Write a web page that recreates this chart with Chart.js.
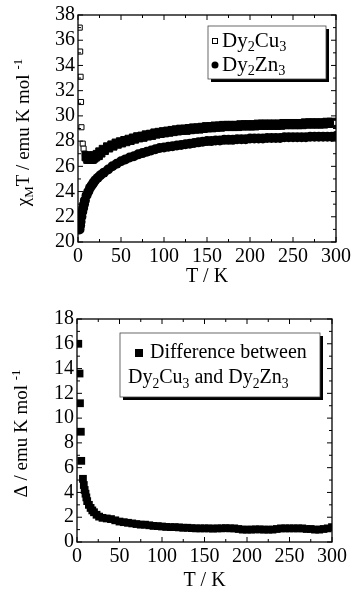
<!DOCTYPE html>
<html>
<head>
<title>Dy2Cu3 / Dy2Zn3</title>
<script src="https://cdn.jsdelivr.net/npm/chart.js"></script>
<style>
  body { margin: 0; background: #fff; }
  .pane { position: absolute; left: 0; }
</style>
</head>
<body>
<div class="pane" style="top:0"><canvas id="chiChart" width="354" height="290"></canvas></div>
<div class="pane" style="top:290px"><canvas id="diffChart" width="354" height="299"></canvas></div>

<script>
// chi_M T of Dy2Cu3 (open squares at the ends, dense band in between)
const cuT = [2, 2.5, 3, 3.5, 4, 5.5, 6.5, 8, 10, 12, 14, 16, 18, 20, 23, 26,
  30, 35, 40, 45, 50, 55, 60, 65, 70, 75, 80, 85, 90, 95, 100, 105, 110, 115, 120, 125, 130, 135, 140, 145,
  150, 155, 160, 165, 170, 175, 180, 185, 190, 195, 200, 205, 210, 215, 220, 225, 230, 235, 240, 245,
  250, 255, 260, 265, 270, 275, 280, 285, 290, 295, 300]
const cuChi = [37.0, 35.1, 33.1, 31.1, 29.1, 27.8, 27.4, 27.0, 26.8, 26.6, 26.6, 26.6, 26.7, 26.8, 26.9, 27.1,
  27.3, 27.5, 27.65, 27.8, 27.9, 28.0, 28.1, 28.2, 28.3, 28.35, 28.45, 28.5, 28.6, 28.65, 28.7, 28.75, 28.8, 28.85, 28.9, 28.9, 28.95, 29.0, 29.0, 29.05,
  29.1, 29.1, 29.15, 29.15, 29.2, 29.2, 29.2, 29.2, 29.25, 29.25, 29.25, 29.25, 29.3, 29.3, 29.3, 29.3, 29.3, 29.3, 29.35, 29.35,
  29.35, 29.35, 29.35, 29.4, 29.4, 29.4, 29.4, 29.4, 29.45, 29.45, 29.45]

// chi_M T of Dy2Zn3
const znT = [1.8, 2.5, 3, 4, 5, 6, 7, 8, 10, 12, 14, 16, 18, 20, 23, 26,
  30, 35, 40, 45, 50, 55, 60, 65, 70, 75, 80, 85, 90, 95, 100, 105, 110, 115, 120, 125, 130, 135, 140, 145,
  150, 155, 160, 165, 170, 175, 180, 185, 190, 195, 200, 205, 210, 215, 220, 225, 230, 235, 240, 245,
  250, 255, 260, 265, 270, 275, 280, 285, 290, 295, 300]
const znChi = [21.0, 21.3, 21.6, 22.0, 22.4, 22.7, 23.0, 23.3, 23.7, 24.0, 24.3, 24.5, 24.7, 24.9, 25.1, 25.3,
  25.5, 25.75, 26.0, 26.2, 26.4, 26.55, 26.7, 26.8, 26.95, 27.05, 27.15, 27.25, 27.35, 27.45, 27.5, 27.55, 27.6, 27.65, 27.7, 27.75, 27.8, 27.85, 27.9, 27.95,
  28.0, 28.0, 28.05, 28.05, 28.1, 28.1, 28.1, 28.15, 28.15, 28.15, 28.2, 28.2, 28.2, 28.2, 28.25, 28.25, 28.25, 28.25, 28.3, 28.3,
  28.3, 28.3, 28.3, 28.3, 28.35, 28.35, 28.35, 28.35, 28.35, 28.35, 28.4]

// difference Dy2Cu3 - Dy2Zn3
const diffT = [1.5, 3, 3.5, 4.5, 5, 7, 8, 9, 10, 11, 12, 14, 16, 18, 20, 23, 26,
  30, 35, 40, 45, 50, 55, 60, 65, 70, 75, 80, 85, 90, 95, 100, 105, 110, 115, 120, 125, 130, 135, 140, 145,
  150, 155, 160, 165, 170, 175, 180, 185, 190, 195, 200, 205, 210, 215, 220, 225, 230, 235, 240, 245,
  250, 255, 260, 265, 270, 275, 280, 285, 290, 295, 300]
const diffVal = [16.0, 13.6, 11.2, 8.9, 6.55, 5.1, 4.6, 4.2, 3.9, 3.6, 3.3, 3.0, 2.75, 2.55, 2.4, 2.2, 2.05,
  1.95, 1.9, 1.85, 1.75, 1.65, 1.6, 1.55, 1.5, 1.45, 1.4, 1.4, 1.35, 1.3, 1.28, 1.25, 1.22, 1.2, 1.2, 1.18, 1.15, 1.15, 1.12, 1.1, 1.1,
  1.1, 1.1, 1.08, 1.1, 1.1, 1.12, 1.1, 1.1, 1.05, 1.0, 1.0, 1.0, 1.02, 1.02, 1.0, 1.0, 1.0, 1.05, 1.1, 1.1,
  1.1, 1.1, 1.1, 1.1, 1.05, 1.05, 1.0, 1.0, 1.05, 1.1, 1.2]

const xTicks = [0, 50, 100, 150, 200, 250, 300]

const SERIF = '"Liberation Serif", "Times New Roman", serif'
const pts = (xs, ys) => xs.map((x, i) => ({ x: x, y: ys[i] }))

// text with sub (1) / superscript (-1) pieces
function richWidth(ctx, parts, size) {
  let w = 0
  for (const [t, k] of parts) {
    ctx.font = (k ? size * 0.68 : size) + 'px ' + SERIF
    w += ctx.measureText(t).width
  }
  return w
}
function drawRich(ctx, parts, x, y, size) {
  ctx.textBaseline = 'middle'
  ctx.textAlign = 'left'
  for (const [t, k] of parts) {
    ctx.font = (k ? size * 0.68 : size) + 'px ' + SERIF
    const dy = k === 1 ? size * 0.32 : (k === -1 ? -size * 0.3 : 0)
    ctx.fillText(t, x, y + dy)
    x += ctx.measureText(t).width
  }
}

// frame, inward ticks, axis titles and legend box
function decorPlugin(cfg) {
  return {
    id: 'decor',
    afterDraw(chart) {
      const ctx = chart.ctx
      const a = chart.chartArea
      const xs = chart.scales.x, ys = chart.scales.y
      ctx.save()
      ctx.strokeStyle = '#000'
      ctx.fillStyle = '#000'
      ctx.lineWidth = 1.3
      ctx.strokeRect(a.left, a.top, a.right - a.left, a.bottom - a.top)
      ctx.lineWidth = 1
      ctx.beginPath()
      for (let v = xs.min; v <= xs.max; v += 25) {
        const p = xs.getPixelForValue(v)
        const len = v % 50 === 0 ? 5 : 3
        ctx.moveTo(p, a.bottom); ctx.lineTo(p, a.bottom - len)
        ctx.moveTo(p, a.top); ctx.lineTo(p, a.top + len)
      }
      for (let v = ys.min; v <= ys.max; v += 1) {
        const p = ys.getPixelForValue(v)
        const len = (v - ys.min) % 2 === 0 ? 5 : 3
        ctx.moveTo(a.left, p); ctx.lineTo(a.left + len, p)
        ctx.moveTo(a.right, p); ctx.lineTo(a.right - len, p)
      }
      ctx.stroke()

      // x title
      ctx.font = '20px ' + SERIF
      ctx.textAlign = 'center'
      ctx.textBaseline = 'middle'
      ctx.fillText('T / K', (a.left + a.right) / 2, cfg.xTitleY)

      // y title, rotated
      ctx.save()
      ctx.translate(cfg.yTitleX, (a.top + a.bottom) / 2 + cfg.yTitleShift)
      ctx.rotate(-Math.PI / 2)
      const w = richWidth(ctx, cfg.yTitle, 19)
      drawRich(ctx, cfg.yTitle, -w / 2, 0, 19)
      ctx.restore()

      // legend box with heavy shadow
      const L = cfg.legend
      ctx.fillStyle = '#000'
      ctx.fillRect(L.x + 3, L.y + 3, L.w, L.h)
      ctx.fillStyle = '#fff'
      ctx.fillRect(L.x, L.y, L.w, L.h)
      ctx.lineWidth = 0.8
      ctx.strokeStyle = '#444'
      ctx.strokeRect(L.x, L.y, L.w, L.h)
      ctx.fillStyle = '#000'
      for (const row of L.rows) {
        if (row.mark === 'open') {
          ctx.lineWidth = 1
          ctx.strokeStyle = '#000'
          ctx.strokeRect(row.mx - 2.5, row.y - 2.5, 5, 5)
        } else if (row.mark === 'dot') {
          ctx.beginPath(); ctx.arc(row.mx, row.y, 3.5, 0, Math.PI * 2); ctx.fill()
        } else if (row.mark === 'sq') {
          ctx.fillRect(row.mx - 4, row.y - 4, 8, 8)
        }
        drawRich(ctx, row.parts, row.tx, row.y, row.size)
      }
      ctx.restore()
    }
  }
}

function axisOpts(min, max, step, fixW, fixH) {
  return {
    x: {
      type: 'linear', min: 0, max: 300,
      afterBuildTicks: s => { s.ticks = xTicks.map(v => ({ value: v })) },
      ticks: { color: '#000', font: { family: SERIF, size: 20 }, padding: 3, maxRotation: 0, autoSkip: false },
      grid: { display: false, drawTicks: false },
      border: { display: false },
      afterFit: s => { s.height = fixH }
    },
    y: {
      min: min, max: max,
      ticks: { stepSize: step, color: '#000', font: { family: SERIF, size: 20 }, padding: 3, autoSkip: false },
      grid: { display: false, drawTicks: false },
      border: { display: false },
      afterFit: s => { s.width = fixW }
    }
  }
}

const isOpenCu = c => c.raw && (c.raw.x < 9 || c.raw.x >= 300)

new Chart(document.getElementById('chiChart'), {
  type: 'scatter',
  data: {
    datasets: [{
      label: 'Dy2Cu3',
      data: pts(cuT, cuChi),
      pointStyle: 'rect',
      pointRadius: c => isOpenCu(c) ? 3.6 : 6.5,
      backgroundColor: c => isOpenCu(c) ? '#fff' : '#000',
      borderColor: '#000',
      borderWidth: 1
    }, {
      label: 'Dy2Zn3',
      data: pts(znT, znChi),
      pointStyle: 'circle',
      pointRadius: 5,
      backgroundColor: '#000',
      borderColor: '#000',
      borderWidth: 0
    }]
  },
  options: {
    responsive: false,
    animation: false,
    layout: { padding: { top: 15, right: 18, left: 0, bottom: 0 } },
    plugins: { legend: { display: false }, tooltip: { enabled: false } },
    scales: axisOpts(20, 38, 2, 78, 48)
  },
  plugins: [decorPlugin({
    xTitleY: 277,
    yTitleX: 24,
    yTitleShift: 4,
    yTitle: [['χ', 0], ['M', 1], ['T / emu K mol ', 0], ['-1', -1]],
    legend: {
      x: 208, y: 26, w: 118, h: 53,
      rows: [
        { mark: 'open', mx: 215, tx: 222, y: 41, size: 21, parts: [['Dy', 0], ['2', 1], ['Cu', 0], ['3', 1]] },
        { mark: 'dot', mx: 215, tx: 222, y: 65, size: 21, parts: [['Dy', 0], ['2', 1], ['Zn', 0], ['3', 1]] }
      ]
    }
  })]
})

new Chart(document.getElementById('diffChart'), {
  type: 'scatter',
  data: {
    datasets: [{
      label: 'Difference between Dy2Cu3 and Dy2Zn3',
      data: pts(diffT, diffVal),
      pointStyle: 'rect',
      pointRadius: 5.5,
      backgroundColor: '#000',
      borderColor: '#000',
      borderWidth: 0
    }]
  },
  options: {
    responsive: false,
    animation: false,
    layout: { padding: { top: 29, right: 22, left: 0, bottom: 0 } },
    plugins: { legend: { display: false }, tooltip: { enabled: false } },
    scales: axisOpts(0, 18, 2, 77, 47)
  },
  plugins: [decorPlugin({
    xTitleY: 291,
    yTitleX: 22,
    yTitleShift: 3,
    yTitle: [['Δ / emu K mol ', 0], ['-1', -1]],
    legend: {
      x: 120, y: 43, w: 200, h: 64,
      rows: [
        { mark: 'sq', mx: 139, tx: 150, y: 63, size: 20, parts: [['Difference between', 0]] },
        { mark: null, mx: 0, tx: 128, y: 88, size: 20, parts: [['Dy', 0], ['2', 1], ['Cu', 0], ['3', 1], [' and Dy', 0], ['2', 1], ['Zn', 0], ['3', 1]] }
      ]
    }
  })]
})
</script>
</body>
</html>
